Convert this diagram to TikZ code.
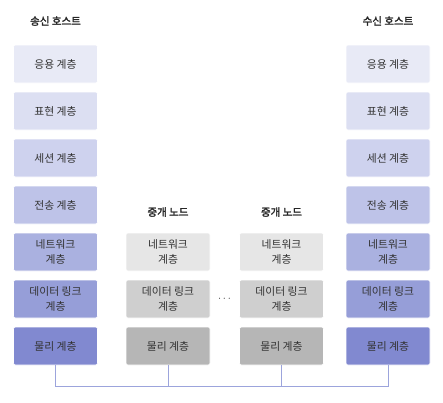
\documentclass[tikz,border=0pt]{standalone}
\usepackage{fontspec}
\usepackage{tikz}
\newfontfamily\kr{Noto Sans CJK KR}
\newfontfamily\krtitle[FakeBold=2.2]{Noto Sans CJK KR}
\definecolor{lay1}{HTML}{E8EAF6}
\definecolor{lay2}{HTML}{DCDFF2}
\definecolor{lay3}{HTML}{CED2EE}
\definecolor{lay4}{HTML}{BEC3E8}
\definecolor{lay5}{HTML}{AAB1E0}
\definecolor{lay6}{HTML}{969ED8}
\definecolor{lay7}{HTML}{8189D0}
\definecolor{mid5}{HTML}{E6E6E6}
\definecolor{mid6}{HTML}{CFCFCF}
\definecolor{mid7}{HTML}{B6B6B6}
\definecolor{busline}{HTML}{9CA4DC}
\definecolor{txt}{HTML}{333333}

\begin{document}
\begin{tikzpicture}[
    x=1pt, y=-1pt,
    layer box/.style={rectangle, rounded corners=2pt, minimum width=84pt, minimum height=38pt,
        inner sep=1pt, align=center, text=txt, font=\kr\fontsize{10.8}{14.5}\selectfont,
        draw=white, line width=0.6pt},
    title label/.style={font=\krtitle\fontsize{10.5}{12}\selectfont, text=black!85},
    bus/.style={draw=busline, line width=0.8pt}
]
    \useasboundingbox (0,0) rectangle (443,402);
    \def\xS{55.5}
    \def\xA{168}
    \def\xB{281.5}
    \def\xR{388}

    % sending host
    \node[title label] (st) at (\xS,21) {송신 호스트};
    \node[layer box, fill=lay1] (s1) at (\xS,64) {응용 계층};
    \node[layer box, fill=lay2] (s2) at (\xS,111) {표현 계층};
    \node[layer box, fill=lay3] (s3) at (\xS,158) {세션 계층};
    \node[layer box, fill=lay4] (s4) at (\xS,205) {전송 계층};
    \node[layer box, fill=lay5] (s5) at (\xS,252) {네트워크\\계층};
    \node[layer box, fill=lay6] (s6) at (\xS,299) {데이터 링크\\계층};
    \node[layer box, fill=lay7] (s7) at (\xS,346) {물리 계층};

    % relay nodes
    \node[title label] (at) at (\xA,212) {중개 노드};
    \node[layer box, fill=mid5] (a5) at (\xA,252) {네트워크\\계층};
    \node[layer box, fill=mid6] (a6) at (\xA,299) {데이터 링크\\계층};
    \node[layer box, fill=mid7] (a7) at (\xA,346) {물리 계층};

    \node[title label] (bt) at (\xB,212) {중개 노드};
    \node[layer box, fill=mid5] (b5) at (\xB,252) {네트워크\\계층};
    \node[layer box, fill=mid6] (b6) at (\xB,299) {데이터 링크\\계층};
    \node[layer box, fill=mid7] (b7) at (\xB,346) {물리 계층};

    \node[text=txt, font=\fontsize{11}{12}\selectfont] (dots) at (224.5,299) {$\cdots$};

    % receiving host
    \node[title label] (rt) at (\xR,21) {수신 호스트};
    \node[layer box, fill=lay1] (r1) at (\xR,64) {응용 계층};
    \node[layer box, fill=lay2] (r2) at (\xR,111) {표현 계층};
    \node[layer box, fill=lay3] (r3) at (\xR,158) {세션 계층};
    \node[layer box, fill=lay4] (r4) at (\xR,205) {전송 계층};
    \node[layer box, fill=lay5] (r5) at (\xR,252) {네트워크\\계층};
    \node[layer box, fill=lay6] (r6) at (\xR,299) {데이터 링크\\계층};
    \node[layer box, fill=lay7] (r7) at (\xR,346) {물리 계층};

    % physical link
    \coordinate (busy) at (0,386);
    \draw[bus] (s7.south) -- (s7.south |- busy) -| (r7.south);
    \draw[bus] (a7.south) -- (a7.south |- busy);
    \draw[bus] (b7.south) -- (b7.south |- busy);
\end{tikzpicture}
\end{document}
